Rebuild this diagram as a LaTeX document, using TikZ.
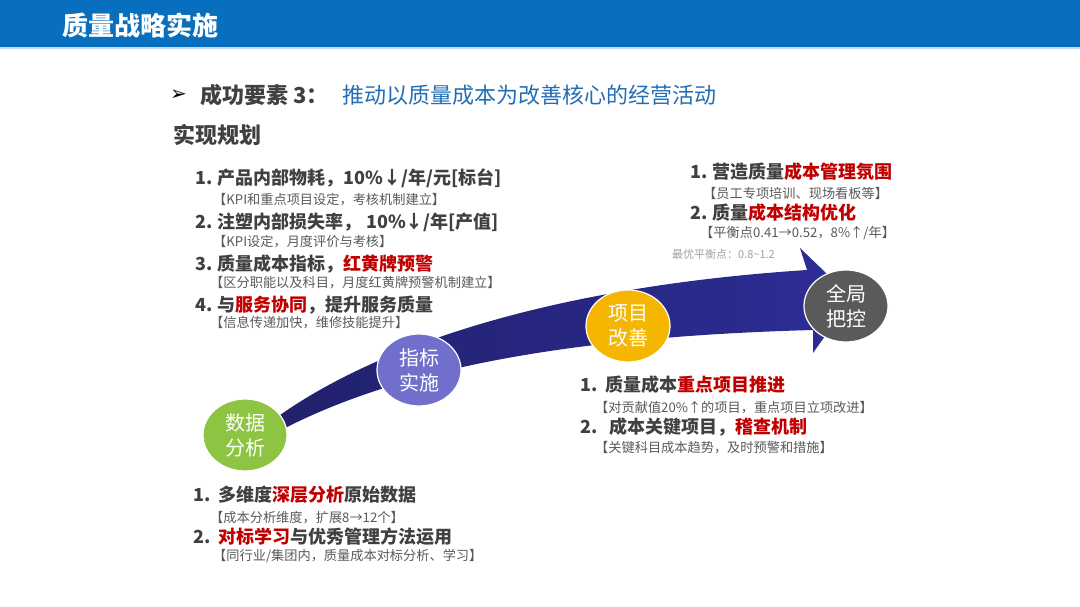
\documentclass[tikz,border=0pt]{standalone}
\usepackage{fontspec}
\setmainfont{Noto Sans CJK SC}
\newfontfamily\symfont{DejaVu Sans}
\usepackage{tikz}
\usetikzlibrary{shapes,arrows.meta,positioning,calc}
\usepackage{xcolor}
\definecolor{barblue}{RGB}{8,110,190}
\definecolor{textgrey}{RGB}{64,64,64}
\definecolor{subgrey}{RGB}{89,89,89}
\definecolor{lightgrey}{RGB}{160,160,160}
\definecolor{keyred}{RGB}{192,0,0}
\definecolor{headblue}{RGB}{35,110,180}
\definecolor{arrownavy}{RGB}{45,45,150}
\definecolor{stepgreen}{RGB}{141,196,66}
\definecolor{steppurple}{RGB}{112,112,204}
\definecolor{stepyellow}{RGB}{244,182,0}
\definecolor{stepgrey}{RGB}{90,90,90}
\newcommand{\hl}[1]{\textcolor{keyred}{#1}}

\begin{document}
\begin{tikzpicture}[x=1pt, y=-1pt,
    item/.style={anchor=west, inner sep=0pt, text=textgrey,
        font=\fontsize{18}{20}\selectfont\bfseries},
    note/.style={anchor=west, inner sep=0pt, text=subgrey,
        font=\fontsize{13.2}{15}\selectfont},
    head/.style={anchor=west, inner sep=0pt, text=textgrey,
        font=\fontsize{22}{24}\selectfont\bfseries},
    stage/.style={ellipse, draw=white, line width=1.2pt, fill=stepgrey,
        minimum width=84pt, minimum height=72pt, inner sep=0pt,
        text=white, align=center, font=\fontsize{20}{25}\selectfont}
]
    \useasboundingbox (0,0) rectangle (1080,607);

    % title bar
    \fill[barblue] (0,0) rectangle (1080,47);
    \fill[barblue!25] (0,47) rectangle (1080,49);
    \node[anchor=west, inner sep=0pt, text=white,
        font=\fontsize{26}{28}\selectfont\bfseries] (title) at (62,25) {质量战略实施};

    \node[anchor=west, inner sep=0pt, text=black,
        font=\symfont\fontsize{20}{22}\selectfont] (bullet) at (170,95) {➢};
    \node[head] (factor) at (200,95) {成功要素 3：};
    \node[head, text=headblue, font=\fontsize{22}{24}\selectfont] (goal) at (342,95)
        {推动以质量成本为改善核心的经营活动};
    \node[head] (plan) at (173,135) {实现规划};

    % curved arrow
    \shade[left color=arrownavy!70!black, right color=arrownavy]
        (222,466) .. controls (305,372) and (500,290) .. (807,270)
        -- (800,248) -- (852,298) -- (813,353) -- (813,330)
        .. controls (520,338) and (340,382) .. (222,466) -- cycle;

    \node[stage, fill=stepgreen] (data) at (245,435) {数据\\分析};
    \node[stage, fill=steppurple] (index) at (419,370) {指标\\实施};
    \node[stage, fill=stepyellow] (project) at (628,326) {项目\\改善};
    \node[stage, fill=stepgrey] (control) at (846,306) {全局\\把控};

    % indicators
    \node[item] (i1) at (195,178) {1. 产品内部物耗，10\%↓/年/元[标台]};
    \node[note] (n1) at (213,200) {【KPI和重点项目设定，考核机制建立】};
    \node[item] (i2) at (195,222) {2. 注塑内部损失率， 10\%↓/年[产值]};
    \node[note] (n2) at (213,242) {【KPI设定，月度评价与考核】};
    \node[item] (i3) at (195,264) {3. 质量成本指标，\hl{红黄牌预警}};
    \node[note] (n3) at (210,283) {【区分职能以及科目，月度红黄牌预警机制建立】};
    \node[item] (i4) at (195,305) {4. 与\hl{服务协同}，提升服务质量};
    \node[note] (n4) at (210,323) {【信息传递加快，维修技能提升】};

    % overall control
    \node[item] (c1) at (690,172) {1. 营造质量\hl{成本管理氛围}};
    \node[note] (cn1) at (703,193) {【员工专项培训、现场看板等】};
    \node[item] (c2) at (690,213) {2. 质量\hl{成本结构优化}};
    \node[note] (cn2) at (700,233) {【平衡点0.41→0.52，8\%↑/年】};
    \node[note, text=lightgrey, font=\fontsize{11}{13}\selectfont] (best) at (672,254)
        {最优平衡点：0.8\textasciitilde1.2};

    % project improvement
    \node[item] (p1) at (580,385) {1.\ \ 质量成本\hl{重点项目推进}};
    \node[note] (pn1) at (595,408) {【对贡献值20\%↑的项目，重点项目立项改进】};
    \node[item] (p2) at (580,427) {2.\ \ \ 成本关键项目，\hl{稽查机制}};
    \node[note] (pn2) at (595,448) {【关键科目成本趋势，及时预警和措施】};

    % data analysis
    \node[item] (d1) at (193,495) {1.\ \ 多维度\hl{深层分析}原始数据};
    \node[note] (dn1) at (210,518) {【成本分析维度，扩展8→12个】};
    \node[item] (d2) at (193,537) {2.\ \ \hl{对标学习}与优秀管理方法运用};
    \node[note] (dn2) at (213,556) {【同行业/集团内，质量成本对标分析、学习】};
\end{tikzpicture}
\end{document}
